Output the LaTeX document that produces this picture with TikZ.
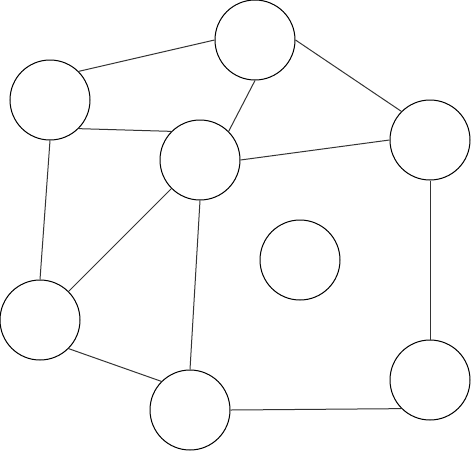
\documentclass[tikz,border=0pt]{standalone}
\usepackage{tikz}
\usetikzlibrary{arrows.meta}

\begin{document}
\begin{tikzpicture}[x=1pt, y=-1pt, line width=1pt,
  vertex/.style={draw, circle, fill=white, minimum size=80pt, inner sep=0pt},
  edge/.style={draw=black!80}]
  \useasboundingbox (0,0) rectangle (471,451);
  % Vertices
  \node[vertex] (A) at (50,100) {};
  \node[vertex] (B) at (255,40) {};
  \node[vertex] (C) at (200,160) {};
  \node[vertex] (D) at (430,140) {};
  \node[vertex] (E) at (300,260) {};
  \node[vertex] (F) at (40,320) {};
  \node[vertex] (G) at (190,410) {};
  \node[vertex] (H) at (430,380) {};

  % Edges
  \draw[edge] (A.north east) -- (B.west);
  \draw[edge] (A.south east) -- (C.north west);
  \draw[edge] (B.south) -- (C.north east);
  \draw[edge] (B.east) -- (D.north west);
  \draw[edge] (C.east) -- (D.west);
  \draw[edge] (C.south west) -- (F.north east);
  \draw[edge] (A.south) -- (F.north);
  \draw[edge] (C.south) -- (G.north);
  \draw[edge] (F.south east) -- (G.north west);
  \draw[edge] (G.east) -- (H.south west);
  \draw[edge] (D.south) -- (H.north);
\end{tikzpicture}
\end{document}
